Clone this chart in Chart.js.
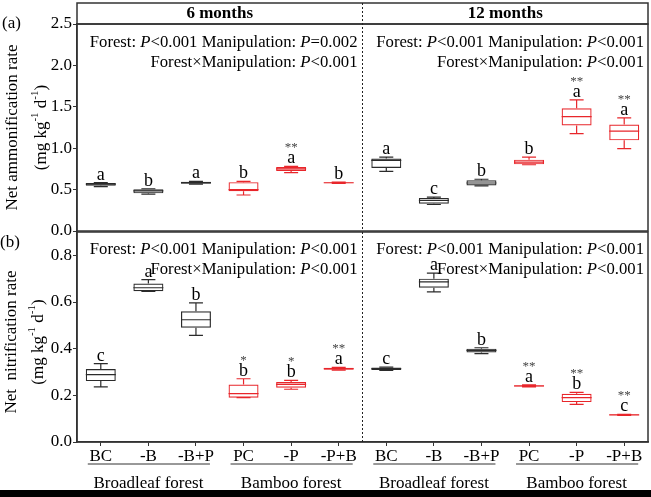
<!DOCTYPE html>
<html>
<head>
<meta charset="utf-8">
<script src="https://cdn.jsdelivr.net/npm/chart.js@4.4.0/dist/chart.umd.min.js"></script>
<style>
  body { margin: 0; background: #fff; }
  #wrap { position: relative; width: 651px; height: 497px; overflow: hidden; }
  canvas { position: absolute; left: 0; }
</style>
</head>
<body>
<div id="wrap">
  <canvas id="chartA" width="651" height="243" style="top:0px"></canvas>
  <canvas id="chartB" width="651" height="277" style="top:220px"></canvas>
</div>
<script>
const categories = ["BC", "-B", "-B+P", "PC", "-P", "-P+B", "BC", "-B", "-B+P", "PC", "-P", "-P+B"];
const forestGroups = ["Broadleaf forest", "Bamboo forest", "Broadleaf forest", "Bamboo forest"];
const periods = ["6 months", "12 months"];

// (a) net ammonification rate, box plot stats
const ammMin = [0.535, 0.445, 0.565, 0.435, 0.705, 0.575, 0.72, 0.32, 0.545, 0.80, 1.175, 0.995];
const ammQ1 = [0.545, 0.455, 0.57, 0.48, 0.725, 0.578, 0.76, 0.33, 0.55, 0.805, 1.275, 1.095];
const ammMed = [0.565, 0.485, 0.585, 0.50, 0.75, 0.583, 0.853, 0.37, 0.58, 0.833, 1.382, 1.206];
const ammQ3 = [0.58, 0.505, 0.595, 0.59, 0.773, 0.587, 0.876, 0.40, 0.613, 0.862, 1.482, 1.286];
const ammMax = [0.585, 0.51, 0.60, 0.60, 0.78, 0.59, 0.893, 0.41, 0.625, 0.893, 1.583, 1.367];
const ammLetters = ["a", "b", "a", "b", "a", "b", "a", "c", "b", "b", "a", "a"];
const ammStars = ["", "", "", "", "**", "", "", "", "", "", "**", "**"];

// (b) net nitrification rate
const nitMin = [0.236, 0.645, 0.457, 0.19, 0.226, 0.308, 0.307, 0.643, 0.379, 0.236, 0.161, 0.114];
const nitQ1 = [0.261, 0.646, 0.49, 0.19, 0.233, 0.31, 0.309, 0.661, 0.384, 0.238, 0.171, 0.115];
const nitMed = [0.289, 0.661, 0.524, 0.207, 0.247, 0.314, 0.314, 0.686, 0.393, 0.24, 0.19, 0.116];
const nitQ3 = [0.313, 0.679, 0.56, 0.246, 0.257, 0.318, 0.319, 0.70, 0.40, 0.243, 0.207, 0.118];
const nitMax = [0.336, 0.696, 0.596, 0.271, 0.264, 0.32, 0.321, 0.724, 0.404, 0.245, 0.213, 0.119];
const nitLetters = ["c", "a", "b", "b", "b", "a", "c", "a", "b", "a", "b", "c"];
const nitStars = ["", "", "", "*", "*", "**", "", "", "", "**", "**", "**"];

const BLACK = "#2b2b2b";
const RED = "#e8262b";
const boxColors = categories.map((c, i) => (i % 6 < 3 ? BLACK : RED));
const SERIF = "'Liberation Serif', 'Times New Roman', serif";

function font(size, style) {
  return (style || "") + " " + size + "px " + SERIF;
}

// draw text made of several font pieces in one line
function drawRich(ctx, parts, x, y, align) {
  let w = 0;
  parts.forEach(p => { ctx.font = p.font; w += ctx.measureText(p.t).width; });
  let sx = x;
  if (align === "right") sx = x - w;
  if (align === "center") sx = x - w / 2;
  ctx.textAlign = "left";
  parts.forEach(p => {
    ctx.font = p.font;
    ctx.fillText(p.t, sx, y + (p.dy || 0));
    sx += ctx.measureText(p.t).width;
  });
}

function statLines(manip) {
  const n = font(16.7), it = font(16.7, "italic");
  return [
    [{ t: "Forest: ", font: n }, { t: "P", font: it }, { t: "<0.001 Manipulation: ", font: n }, { t: "P", font: it }, { t: manip, font: n }],
    [{ t: "Forest\u00d7Manipulation: ", font: n }, { t: "P", font: it }, { t: "<0.001", font: n }]
  ];
}

function unitParts() {
  const n = font(17), s = font(11);
  return [
    { t: "(mg kg", font: n }, { t: "-1", font: s, dy: -7 },
    { t: " d", font: n }, { t: "-1", font: s, dy: -7 }, { t: ")", font: n }
  ];
}

function boxPlugin(stats) {
  return {
    id: "boxExtras",
    afterDatasetsDraw(chart) {
      const ctx = chart.ctx;
      const y = chart.scales.y;
      const meta = chart.getDatasetMeta(0);
      ctx.save();
      for (let i = 0; i < categories.length; i++) {
        const bar = meta.data[i];
        const cx = bar.x;
        const half = bar.width / 2;
        ctx.strokeStyle = boxColors[i];
        ctx.lineWidth = 1.2;
        ctx.beginPath();
        // median
        ctx.moveTo(cx - half, y.getPixelForValue(stats.med[i]));
        ctx.lineTo(cx + half, y.getPixelForValue(stats.med[i]));
        // whiskers
        ctx.moveTo(cx, y.getPixelForValue(stats.q3[i]));
        ctx.lineTo(cx, y.getPixelForValue(stats.max[i]));
        ctx.moveTo(cx, y.getPixelForValue(stats.q1[i]));
        ctx.lineTo(cx, y.getPixelForValue(stats.min[i]));
        // caps
        ctx.moveTo(cx - 7, y.getPixelForValue(stats.max[i]));
        ctx.lineTo(cx + 7, y.getPixelForValue(stats.max[i]));
        ctx.moveTo(cx - 7, y.getPixelForValue(stats.min[i]));
        ctx.lineTo(cx + 7, y.getPixelForValue(stats.min[i]));
        ctx.stroke();

        const top = y.getPixelForValue(stats.max[i]) - 3;
        ctx.fillStyle = "#000";
        ctx.textAlign = "center";
        ctx.textBaseline = "alphabetic";
        ctx.font = font(18);
        ctx.fillText(stats.letters[i], cx, top);
        if (stats.stars[i]) {
          ctx.fillStyle = "#444";
          ctx.font = font(13);
          ctx.fillText(stats.stars[i], cx, top - 12);
        }
      }
      ctx.restore();
    }
  };
}

function framePlugin(panel) {
  return {
    id: "frame",
    afterDraw(chart) {
      const ctx = chart.ctx;
      const a = chart.chartArea;
      const x = chart.scales.x;
      const mid = (x.getPixelForValue(5) + x.getPixelForValue(6)) / 2;
      ctx.save();
      ctx.strokeStyle = "#333";
      ctx.lineWidth = 1.5;
      ctx.strokeRect(a.left, a.top, a.right - a.left, a.bottom - a.top);

      let dividerTop = a.top;
      if (panel.header) {
        dividerTop = 3;
        ctx.strokeRect(a.left, 3, a.right - a.left, a.top - 3);
        ctx.fillStyle = "#000";
        ctx.textAlign = "center";
        ctx.textBaseline = "middle";
        ctx.font = font(17, "bold");
        ctx.fillText(periods[0], (a.left + mid) / 2, 14);
        ctx.fillText(periods[1], (mid + a.right) / 2, 14);
      }
      ctx.setLineDash([2, 2]);
      ctx.lineWidth = 1;
      ctx.strokeStyle = "#222";
      ctx.beginPath();
      ctx.moveTo(mid, dividerTop);
      ctx.lineTo(mid, a.bottom);
      ctx.stroke();
      ctx.setLineDash([]);

      // statistics text
      ctx.fillStyle = "#000";
      ctx.textBaseline = "middle";
      const lines = panel.stats;
      [[lines[0], mid - 5], [lines[1], a.right - 4]].forEach(([ls, rx]) => {
        drawRich(ctx, ls[0], rx, a.top + panel.statY, "right");
        drawRich(ctx, ls[1], rx, a.top + panel.statY + 20, "right");
      });

      // panel tag and axis title
      ctx.font = font(17);
      ctx.textAlign = "left";
      ctx.fillText(panel.tag, panel.tagX, panel.tagY);
      const cy = (a.top + a.bottom) / 2 + panel.titleShift;
      ctx.save();
      ctx.translate(panel.titleX, cy);
      ctx.rotate(-Math.PI / 2);
      ctx.textAlign = "center";
      ctx.font = font(17);
      ctx.fillText(panel.title, 0, 0);
      ctx.restore();
      ctx.save();
      ctx.translate(panel.unitX, cy);
      ctx.rotate(-Math.PI / 2);
      drawRich(ctx, unitParts(), 0, 0, "center");
      ctx.restore();

      if (panel.groups) {
        ctx.textAlign = "center";
        ctx.textBaseline = "alphabetic";
        ctx.strokeStyle = "#333";
        ctx.lineWidth = 1;
        for (let g = 0; g < forestGroups.length; g++) {
          const x0 = x.getPixelForValue(g * 3);
          const x1 = x.getPixelForValue(g * 3 + 2);
          ctx.beginPath();
          ctx.moveTo(x0 - 13, a.bottom + 22);
          ctx.lineTo(x1 + 14, a.bottom + 22);
          ctx.stroke();
          ctx.font = font(17);
          ctx.fillText(forestGroups[g], x.getPixelForValue(g * 3 + 1), a.bottom + 46);
        }
        ctx.fillStyle = "#000";
        ctx.fillRect(0, chart.height - 7, chart.width, 7);
      }
      ctx.restore();
    }
  };
}

function makeChart(id, stats, yMax, step, showX, padding, panel) {
  const ctx = document.getElementById(id).getContext("2d");
  return new Chart(ctx, {
    type: "bar",
    data: {
      labels: categories,
      datasets: [{
        data: stats.q1.map((v, i) => [v, stats.q3[i]]),
        backgroundColor: "rgba(255,255,255,0)",
        borderColor: boxColors,
        borderWidth: 1.2,
        borderSkipped: false,
        barPercentage: 0.63,
        categoryPercentage: 1
      }]
    },
    options: {
      responsive: false,
      animation: false,
      events: [],
      devicePixelRatio: 1,
      layout: { padding: padding },
      plugins: { legend: { display: false }, tooltip: { enabled: false } },
      scales: {
        x: {
          display: showX,
          afterFit: s => { s.height = showX ? 55 : 0; },
          ticks: { font: { family: SERIF, size: 17 }, color: "#000", padding: 0, autoSkip: false, maxRotation: 0 },
          grid: { drawOnChartArea: false, offset: false, tickLength: 4, color: "#333" },
          border: { color: "#333", width: 1.5 }
        },
        y: {
          min: 0,
          max: yMax,
          afterFit: s => { s.width = 77; },
          ticks: {
            stepSize: step,
            includeBounds: false,
            font: { family: SERIF, size: 17 },
            color: "#000",
            padding: 1,
            callback: v => v.toFixed(1)
          },
          grid: { drawOnChartArea: false, tickLength: 4, color: "#333" },
          border: { color: "#333", width: 1.5 }
        }
      }
    },
    plugins: [boxPlugin(stats), framePlugin(panel)]
  });
}

makeChart("chartA",
  { min: ammMin, q1: ammQ1, med: ammMed, q3: ammQ3, max: ammMax, letters: ammLetters, stars: ammStars },
  2.5, 0.5, false, { top: 24, right: 3, bottom: 12, left: 0 },
  {
    header: true, stats: [statLines("=0.002"), statLines("<0.001")], statY: 19,
    tag: "(a)", tagX: 2, tagY: 24, title: "Net ammonification rate", titleX: 13, unitX: 42, titleShift: 0
  });

makeChart("chartB",
  { min: nitMin, q1: nitQ1, med: nitMed, q3: nitQ3, max: nitMax, letters: nitLetters, stars: nitStars },
  0.9, 0.2, true, { top: 12, right: 3, bottom: 0, left: 0 },
  {
    header: false, stats: [statLines("<0.001"), statLines("<0.001")], statY: 18,
    tag: "(b)", tagX: 0, tagY: 23, title: "Net  nitrification rate", titleX: 12, unitX: 39, titleShift: 5, groups: true
  });
</script>
</body>
</html>
